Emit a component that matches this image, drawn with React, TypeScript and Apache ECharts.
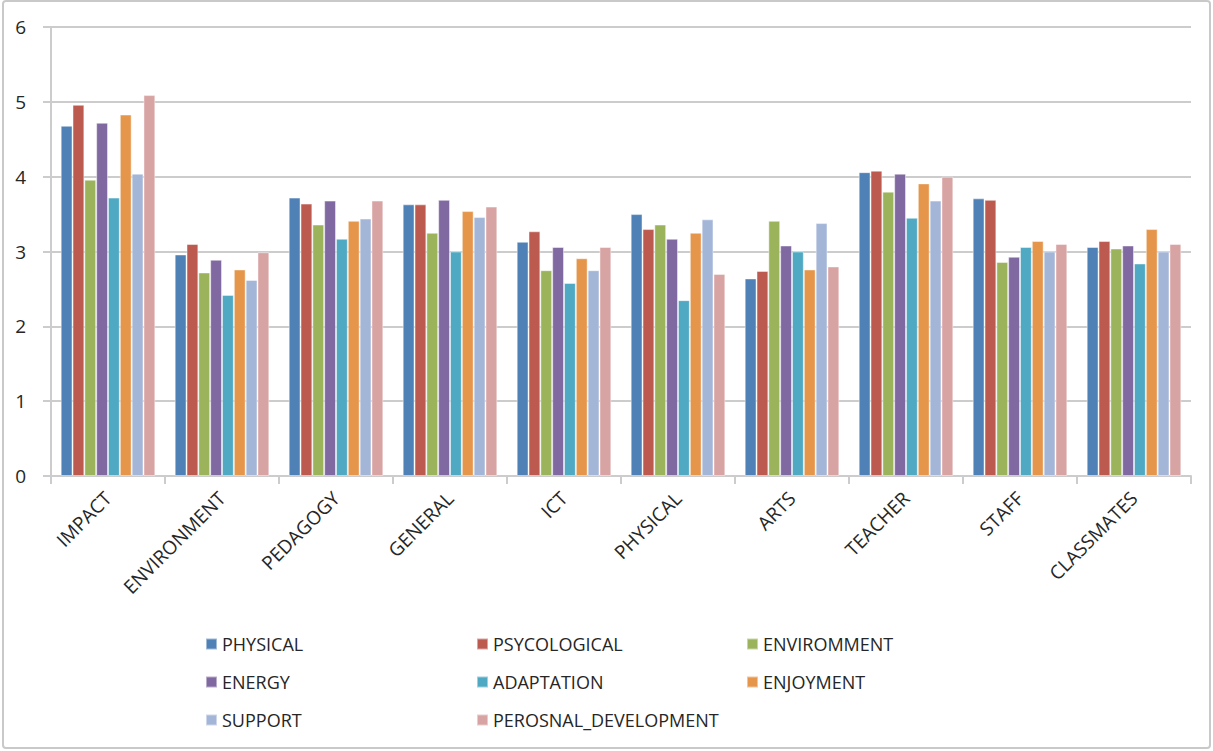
import React, { useEffect, useRef } from "react";
import * as echarts from "echarts";

// Survey dimensions along the x axis
const categories = [
  "IMPACT",
  "ENVIRONMENT",
  "PEDAGOGY",
  "GENERAL",
  "ICT",
  "PHYSICAL",
  "ARTS",
  "TEACHER",
  "STAFF",
  "CLASSMATES",
];

// Mean scores per factor, one value per dimension above
const physical = [4.68, 2.96, 3.72, 3.63, 3.13, 3.5, 2.64, 4.06, 3.71, 3.06];
const psycological = [4.96, 3.1, 3.64, 3.63, 3.27, 3.3, 2.74, 4.08, 3.69, 3.14];
const enviromment = [3.96, 2.72, 3.36, 3.25, 2.75, 3.36, 3.41, 3.8, 2.86, 3.04];
const energy = [4.72, 2.89, 3.68, 3.69, 3.06, 3.17, 3.08, 4.04, 2.93, 3.08];
const adaptation = [3.72, 2.42, 3.17, 3.0, 2.58, 2.35, 3.0, 3.45, 3.06, 2.84];
const enjoyment = [4.83, 2.76, 3.41, 3.54, 2.91, 3.25, 2.76, 3.91, 3.14, 3.3];
const support = [4.04, 2.62, 3.44, 3.46, 2.75, 3.43, 3.38, 3.68, 3.0, 3.0];
const perosnalDevelopment = [5.09, 2.99, 3.68, 3.6, 3.06, 2.7, 2.8, 4.0, 3.1, 3.1];

const seriesNames = [
  "PHYSICAL",
  "PSYCOLOGICAL",
  "ENVIROMMENT",
  "ENERGY",
  "ADAPTATION",
  "ENJOYMENT",
  "SUPPORT",
  "PEROSNAL_DEVELOPMENT",
];
const seriesValues = [
  physical,
  psycological,
  enviromment,
  energy,
  adaptation,
  enjoyment,
  support,
  perosnalDevelopment,
];
const seriesColors = [
  "#4F81B7",
  "#BC5A50",
  "#9BB45C",
  "#8068A1",
  "#4FA9C2",
  "#E5964B",
  "#A4B6D8",
  "#D8A3A3",
];

// Y axis range
const yMin = 0;
const yMax = 6;
const yStep = 1;

const FONT = "'Open Sans', 'Liberation Sans', sans-serif";
const TEXT = "#262626";
const GRID = "#cccccc";

export default function App() {
  const ref = useRef<HTMLDivElement>(null);

  useEffect(() => {
    document.body.style.margin = "0";
    if (!ref.current) return;
    const chart = echarts.init(ref.current, undefined, { renderer: "svg" });

    const legendCol = (names: string[], left: number) => ({
      orient: "vertical" as const,
      left,
      top: 630,
      data: names,
      icon: "rect",
      itemWidth: 11,
      itemHeight: 11,
      itemGap: 20,
      selectedMode: false,
      textStyle: {
        fontFamily: FONT,
        fontSize: 18,
        color: TEXT,
        lineHeight: 18,
        padding: [0, 0, 0, 0],
      },
    });

    chart.setOption({
      animation: false,
      backgroundColor: "#ffffff",
      textStyle: { fontFamily: FONT },
      graphic: [
        {
          type: "rect",
          shape: { x: 3, y: 1, width: 1207, height: 747, r: 3 },
          style: { fill: "none", stroke: "#c9c9c9", lineWidth: 2 },
          silent: true,
        },
      ],
      legend: [
        legendCol(["PHYSICAL", "ENERGY", "SUPPORT"], 200),
        legendCol(["PSYCOLOGICAL", "ADAPTATION", "PEROSNAL_DEVELOPMENT"], 471),
        legendCol(["ENVIROMMENT", "ENJOYMENT"], 741),
      ],
      grid: { left: 51, right: 22, top: 27, bottom: 275, containLabel: false },
      xAxis: {
        type: "category",
        data: categories,
        boundaryGap: true,
        axisLine: { show: true, lineStyle: { color: GRID, width: 2 } },
        axisTick: {
          show: true,
          alignWithLabel: false,
          length: 8,
          lineStyle: { color: GRID, width: 2 },
        },
        axisLabel: {
          interval: 0,
          rotate: 45,
          margin: 19,
          fontFamily: FONT,
          fontSize: 19,
          color: TEXT,
        },
      },
      yAxis: {
        type: "value",
        min: yMin,
        max: yMax,
        interval: yStep,
        axisLine: { show: true, lineStyle: { color: GRID, width: 2 } },
        axisTick: { show: true, length: 8, lineStyle: { color: GRID, width: 2 } },
        axisLabel: {
          margin: 25,
          fontFamily: FONT,
          fontSize: 19,
          color: TEXT,
        },
        splitLine: { show: true, lineStyle: { color: GRID, width: 2 } },
      },
      series: seriesNames.map((name, i) => ({
        name,
        type: "bar",
        data: seriesValues[i],
        barGap: "0%",
        barCategoryGap: "17%",
        itemStyle: {
          color: seriesColors[i],
          borderColor: "rgba(255,255,255,0.45)",
          borderWidth: 1,
        },
      })),
    });

    return () => {
      chart.dispose();
    };
  }, []);

  return (
    <div
      ref={ref}
      style={{ position: "fixed", left: 0, top: 0, width: 1213, height: 751 }}
    />
  );
}
